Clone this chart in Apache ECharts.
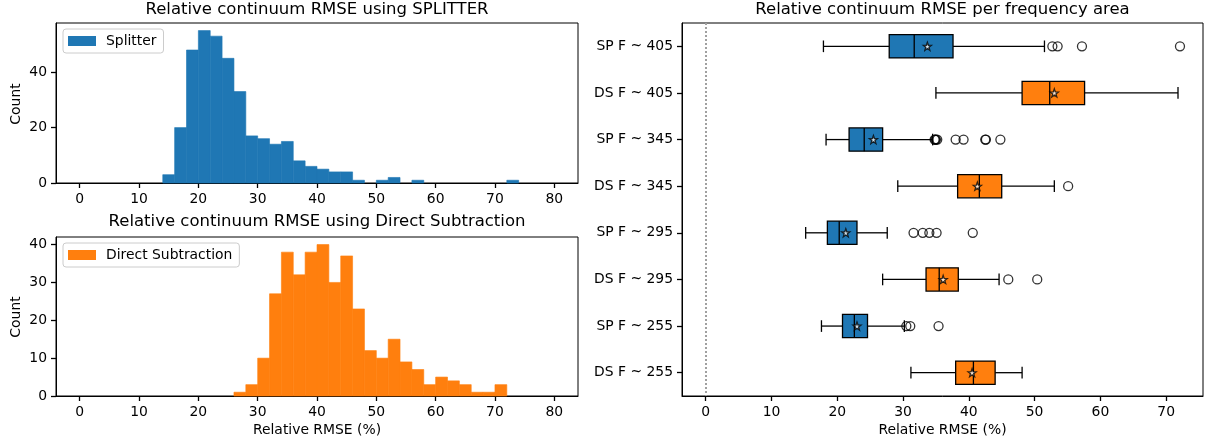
<!DOCTYPE html>
<html><head><meta charset="utf-8">
<script src="https://cdn.jsdelivr.net/npm/echarts@6/dist/echarts.min.js"></script>
<style>html,body{margin:0;padding:0;background:#fff}#c{width:1207px;height:446px}</style>
</head><body><div id="c"></div>
<script>
// ---------- data ----------
const histTicks = [0, 10, 20, 30, 40, 50, 60, 70, 80];
const spCountTicks = [0, 20, 40];
const dsCountTicks = [0, 10, 20, 30, 40];

const spBinEdges = [14,16,18,20,22,24,26,28,30,32,34,36,38,40,42,44,46,48,50,52,54,56,58,60,62,64,66,68,70,72,74];
const spCounts   = [3,20,48,55,53,45,33,17,16,14,15,8,6,5,4,4,1,0,1,2,0,1,0,0,0,0,0,0,0,1];

const dsBinEdges = [26,28,30,32,34,36,38,40,42,44,46,48,50,52,54,56,58,60,62,64,66,68,70,72];
const dsCounts   = [1,3,10,27,38,32,38,40,30,37,23,12,10,15,9,7,3,5,4,3,1,1,3];

const boxCategories = ['SP F ~ 405','DS F ~ 405','SP F ~ 345','DS F ~ 345','SP F ~ 295','DS F ~ 295','SP F ~ 255','DS F ~ 255'];
// [lower whisker, Q1, median, Q3, upper whisker]
const boxStats = [
  [17.9, 27.9, 31.7, 37.6, 51.5],
  [35.0, 48.1, 52.3, 57.6, 71.8],
  [18.3, 21.8, 24.1, 26.9, 34.5],
  [29.2, 38.3, 41.6, 45.0, 53.0],
  [15.2, 18.5, 20.3, 23.0, 27.6],
  [26.9, 33.5, 35.5, 38.4, 44.6],
  [17.6, 20.8, 22.6, 24.6, 30.2],
  [31.2, 38.0, 40.7, 44.0, 48.1]
];
const boxMeans = [33.7, 53.0, 25.5, 41.3, 21.3, 36.1, 23.0, 40.5];
const boxOutliers = [
  [52.7, 53.5, 57.2, 72.1],
  [],
  [34.8, 34.9, 35.0, 35.2, 38.0, 39.2, 42.5, 42.6, 44.8],
  [55.1],
  [31.6, 33.0, 34.0, 35.1, 40.6],
  [46.0, 50.4],
  [30.5, 31.1, 35.4],
  []
];
const boxTicks = [0, 10, 20, 30, 40, 50, 60, 70];

// ---------- styles ----------
const FONT = 'DejaVu Sans';
const BLUE = '#1f77b4', ORANGE = '#ff7f0e';
const TICK_FS = 13.9, TITLE_FS = 16.5;

function histData(edges, counts) {
  return counts.map((c, i) => [edges[i], edges[i + 1], c]);
}
function histRender(params, api) {
  if (!(api.value(2) > 0)) return null;
  const p0 = api.coord([api.value(0), api.value(2)]);
  const p1 = api.coord([api.value(1), 0]);
  const col = api.visual('color');
  return { type: 'rect', shape: { x: p0[0], y: p0[1], width: p1[0] - p0[0], height: p1[1] - p0[1] },
           style: { fill: col, stroke: col, lineWidth: 0.6 } };
}
function boxRender(params, api) {
  const cat = api.value(0);
  const band = api.size([0, 1])[1];
  const yc = api.coord([0, cat])[1];
  const xs = [1, 2, 3, 4, 5].map(k => api.coord([api.value(k), cat])[0]);
  const bh = band * 0.5, ch = band * 0.25;
  const ls = { stroke: '#000', lineWidth: 1.3 };
  return { type: 'group', children: [
    { type: 'line', shape: { x1: xs[0], y1: yc, x2: xs[1], y2: yc }, style: ls },
    { type: 'line', shape: { x1: xs[3], y1: yc, x2: xs[4], y2: yc }, style: ls },
    { type: 'line', shape: { x1: xs[0], y1: yc - ch / 2, x2: xs[0], y2: yc + ch / 2 }, style: ls },
    { type: 'line', shape: { x1: xs[4], y1: yc - ch / 2, x2: xs[4], y2: yc + ch / 2 }, style: ls },
    { type: 'rect', shape: { x: xs[1], y: yc - bh / 2, width: xs[3] - xs[1], height: bh },
      style: { fill: api.visual('color'), stroke: '#000', lineWidth: 1.3 } },
    { type: 'line', shape: { x1: xs[2], y1: yc - bh / 2, x2: xs[2], y2: yc + bh / 2 }, style: ls }
  ] };
}
function boxSeriesData(prefix) {
  const out = [];
  boxCategories.forEach((c, i) => { if (c.startsWith(prefix)) out.push([i].concat(boxStats[i])); });
  return out;
}
const meanData = boxMeans.map((m, i) => [m, i]);
const outlierData = [];
boxOutliers.forEach((arr, i) => arr.forEach(v => outlierData.push([v, i])));

const STAR = 'path://M0,-10L2.35,-3.24L9.51,-3.09L3.8,1.24L5.88,8.09L0,4L-5.88,8.09L-3.8,1.24L-9.51,-3.09L-2.35,-3.24Z';

const axisCommon = {
  axisLine: { show: true, onZero: false, lineStyle: { color: '#000', width: 1 } },
  axisTick: { show: true, length: 5, lineStyle: { color: '#000', width: 1.3 } },
  axisLabel: { color: '#000', fontFamily: FONT, fontSize: TICK_FS, margin: 9 },
  splitLine: { show: false }
};
function valAxis(grid, min, max, ticks, extra) {
  return Object.assign({}, axisCommon, {
    type: 'value', gridIndex: grid, min: min, max: max,
    axisTick: Object.assign({}, axisCommon.axisTick, { customValues: ticks }),
    axisLabel: Object.assign({}, axisCommon.axisLabel, { customValues: ticks })
  }, extra || {});
}

const gridStyle = { show: true, borderColor: '#000', borderWidth: 1, backgroundColor: 'transparent' };

const legendCommon = {
  orient: 'vertical', icon: 'rect', itemWidth: 28, itemHeight: 10,
  backgroundColor: 'rgba(255,255,255,0.8)', borderColor: '#cccccc', borderWidth: 1, borderRadius: 3,
  padding: [5, 7, 5, 5],
  textStyle: { fontFamily: FONT, fontSize: TICK_FS, color: '#000', padding: [0, 0, 0, 5] }
};

const option = {
  backgroundColor: '#fff',
  animation: false,
  grid: [
    Object.assign({ left: 56, top: 23, width: 522, height: 160 }, gridStyle),
    Object.assign({ left: 56, top: 237, width: 522, height: 159 }, gridStyle),
    Object.assign({ left: 682, top: 23, width: 521, height: 373 }, gridStyle)
  ],
  xAxis: [
    valAxis(0, -4, 84, histTicks),
    valAxis(1, -4, 84, histTicks),
    valAxis(2, -3.6, 75.6, boxTicks)
  ],
  yAxis: [
    valAxis(0, 0, 57.75, spCountTicks),
    valAxis(1, 0, 42, dsCountTicks),
    Object.assign({}, axisCommon, {
      type: 'category', gridIndex: 2, data: boxCategories, inverse: true,
      axisTick: Object.assign({}, axisCommon.axisTick, { alignWithLabel: true })
    })
  ],
  legend: [
    Object.assign({ data: ['Splitter'], left: 63, top: 29 }, legendCommon),
    Object.assign({ data: ['Direct Subtraction'], left: 63, top: 243 }, legendCommon)
  ],
  graphic: [
    { type: 'text', x: 317, y: 9.5, style: { text: 'Relative continuum RMSE using SPLITTER', font: TITLE_FS + 'px "' + FONT + '"', fill: '#000', align: 'center', verticalAlign: 'middle' } },
    { type: 'text', x: 317, y: 222, style: { text: 'Relative continuum RMSE using Direct Subtraction', font: TITLE_FS + 'px "' + FONT + '"', fill: '#000', align: 'center', verticalAlign: 'middle' } },
    { type: 'text', x: 942.5, y: 9.5, style: { text: 'Relative continuum RMSE per frequency area', font: TITLE_FS + 'px "' + FONT + '"', fill: '#000', align: 'center', verticalAlign: 'middle' } },
    { type: 'text', x: 317, y: 430, style: { text: 'Relative RMSE (%)', font: TICK_FS + 'px "' + FONT + '"', fill: '#000', align: 'center', verticalAlign: 'middle' } },
    { type: 'text', x: 942.5, y: 430, style: { text: 'Relative RMSE (%)', font: TICK_FS + 'px "' + FONT + '"', fill: '#000', align: 'center', verticalAlign: 'middle' } },
    { type: 'text', x: 16, y: 104, rotation: Math.PI / 2, style: { text: 'Count', font: TICK_FS + 'px "' + FONT + '"', fill: '#000', align: 'center', verticalAlign: 'middle' } },
    { type: 'text', x: 16, y: 317, rotation: Math.PI / 2, style: { text: 'Count', font: TICK_FS + 'px "' + FONT + '"', fill: '#000', align: 'center', verticalAlign: 'middle' } }
  ],
  series: [
    { name: 'Splitter', type: 'custom', xAxisIndex: 0, yAxisIndex: 0, color: BLUE,
      renderItem: histRender, encode: { x: [0, 1], y: 2 }, data: histData(spBinEdges, spCounts) },
    { name: 'Direct Subtraction', type: 'custom', xAxisIndex: 1, yAxisIndex: 1, color: ORANGE,
      renderItem: histRender, encode: { x: [0, 1], y: 2 }, data: histData(dsBinEdges, dsCounts) },
    { name: 'SP boxes', type: 'custom', xAxisIndex: 2, yAxisIndex: 2, color: BLUE,
      renderItem: boxRender, encode: { y: 0, x: [1, 2, 3, 4, 5] }, data: boxSeriesData('SP') },
    { name: 'DS boxes', type: 'custom', xAxisIndex: 2, yAxisIndex: 2, color: ORANGE,
      renderItem: boxRender, encode: { y: 0, x: [1, 2, 3, 4, 5] }, data: boxSeriesData('DS') },
    { name: 'outliers', type: 'scatter', xAxisIndex: 2, yAxisIndex: 2, symbol: 'circle', symbolSize: 9,
      itemStyle: { color: 'rgba(0,0,0,0)', borderColor: '#000', borderWidth: 1.3 }, data: outlierData,
      markLine: { silent: true, symbol: 'none', label: { show: false },
        lineStyle: { color: '#a0a0a0', type: [2, 2], width: 2 }, data: [{ xAxis: 0 }] } },
    { name: 'means', type: 'scatter', xAxisIndex: 2, yAxisIndex: 2, symbol: STAR, symbolSize: 8,
      itemStyle: { color: '#fff', borderColor: '#000', borderWidth: 1.3 }, data: meanData, z: 5 }
  ]
};
const chart = echarts.init(document.getElementById('c'), null, { renderer: 'canvas' });
chart.setOption(option);
</script>
</body></html>
